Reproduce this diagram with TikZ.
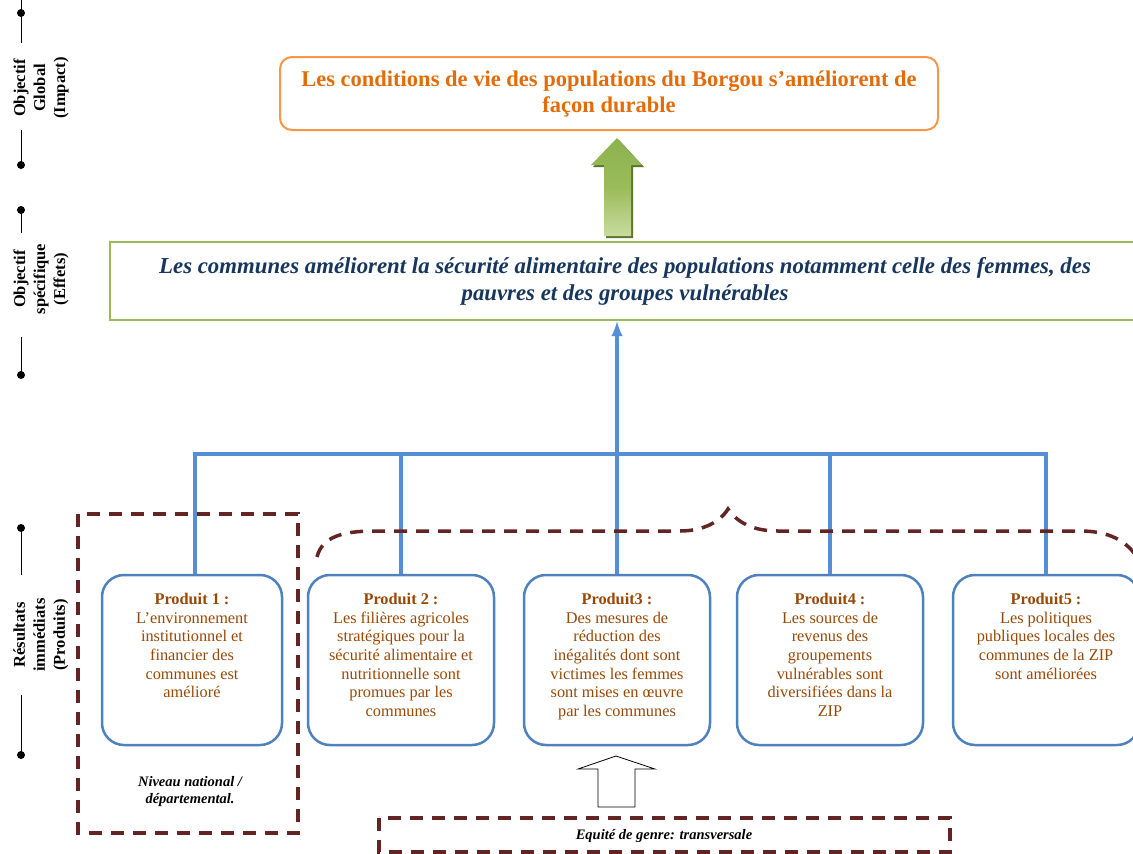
\documentclass[tikz,border=0pt]{standalone}
\usepackage{fontspec}
\setmainfont{Liberation Serif}
\usetikzlibrary{arrows,calc}
\definecolor{orange1}{RGB}{247,150,70}
\definecolor{orange2}{RGB}{227,108,10}
\definecolor{green1}{RGB}{155,187,89}
\definecolor{green2}{RGB}{140,178,80}
\definecolor{green3}{RGB}{200,220,160}
\definecolor{green4}{RGB}{90,118,44}
\definecolor{navy1}{RGB}{23,54,93}
\definecolor{blue1}{RGB}{85,142,213}
\definecolor{blue2}{RGB}{79,129,189}
\definecolor{brown1}{RGB}{152,72,6}
\definecolor{red1}{RGB}{99,37,35}
\newcommand{\prodtxt}[2]{\parbox[c][134pt][t]{180pt}{\centering\textbf{#1}\\#2}}
\tikzset{
  axlbl/.style={rotate=90,align=center,font=\fontsize{16.5}{20}\selectfont\bfseries},
  prod/.style={draw=blue2,line width=2.5pt,rounded corners=22pt,inner sep=0pt,
    minimum width=186pt,minimum height=170pt,text=brown1,font=\fontsize{16.3}{18.7}\selectfont},
  tree/.style={draw=blue1,line width=4pt},
  dashbox/.style={draw=red1,line width=3.5pt,dash pattern=on 13pt off 9pt},
  note/.style={align=center,font=\fontsize{14.5}{17}\selectfont\bfseries\itshape}
}
\begin{document}
\begin{tikzpicture}[x=1pt,y=-1pt]
\useasboundingbox (0,0) rectangle (1133,854);
% echelle a gauche
\draw[thick] (21,0) -- (21,43);
\draw[thick] (21,130) -- (21,165);
\draw[thick] (21,210) -- (21,233);
\draw[thick] (21,337) -- (21,375);
\draw[thick] (21,528) -- (21,575);
\draw[thick] (21,695) -- (21,755);
\foreach \y in {13,165,210,375,528,755} \fill (21,\y) circle (4);
\node[axlbl] (lbl1) at (41,88) {Objectif\\Global\\(Impact)};
\node[axlbl] (lbl2) at (41,279) {Objectif\\spécifique\\(Effets)};
\node[axlbl] (lbl3) at (41,635) {Résultats\\immédiats\\(Produits)};
% objectifs
\node[draw=orange1,line width=2pt,rounded corners=12pt,minimum width=658pt,minimum height=73pt,
  align=center,text=orange2,font=\fontsize{22.5}{26}\selectfont\bfseries] (imp) at (609,93.5)
  {Les conditions de vie des populations du Borgou s’améliorent de\\façon durable};
\node[draw=green1,line width=2.5pt,minimum width=1030pt,minimum height=78pt,
  align=center,text=navy1,font=\fontsize{22.8}{27}\selectfont\bfseries\itshape] (eff) at (625,281)
  {Les communes améliorent la sécurité alimentaire des populations notamment celle des femmes, des\\pauvres et des groupes vulnérables};
\fill[green4] (619,140) -- (644,167) -- (633,167) -- (633,238) -- (606,238) -- (606,167) -- (593,167) -- cycle;
\shade[top color=green2,bottom color=green3,middle color=green1] (617,138) -- (642,165) -- (631,165) -- (631,236) -- (604,236) -- (604,165) -- (591,165) -- cycle;
% produits
\node[prod,minimum width=177pt] (p1) at (192,660) {\prodtxt{Produit 1 :}{L’environnement\\institutionnel et\\financier des\\communes est\\amélioré}};
\node[prod] (p2) at (401,660) {\prodtxt{Produit 2 :}{Les filières agricoles\\stratégiques pour la\\sécurité alimentaire et\\nutritionnelle sont\\promues par les\\communes}};
\node[prod] (p3) at (617,660) {\prodtxt{Produit3 :}{Des mesures de\\réduction des\\inégalités dont sont\\victimes les femmes\\sont mises en œuvre\\par les communes}};
\node[prod] (p4) at (830,660) {\prodtxt{Produit4 :}{Les sources de\\revenus des\\groupements\\vulnérables sont\\diversifiées dans la\\ZIP}};
\node[prod] (p5) at (1046,660) {\prodtxt{Produit5 :}{Les politiques\\publiques locales des\\communes de la ZIP\\sont améliorées}};
\coordinate (bar) at (617,454);
\draw[tree] ($(p1.north)+(3,0)$) -- ($(p1.north |- bar)+(3,0)$) -- (p5.north |- bar) -- (p5.north);
\foreach \p in {p2,p3,p4} \draw[tree] (\p.north) -- (\p.north |- bar);
\draw[tree,-latex] (p3.north |- bar) -- (p3.north |- eff.south);
% niveaux
\draw[dashbox] (78,514) rectangle (298,833);
\node[note] (nat) at (190,792) {Niveau national /\\départemental.};
\draw[dashbox] (317,557) .. controls (322,537) and (342,531) .. (375,531) -- (680,531)
  .. controls (703,531) and (720,522) .. (728,509) .. controls (737,522) and (752,531) .. (778,531)
  -- (1080,531) .. controls (1108,531) and (1128,540) .. (1140,562);
\draw[dashbox] (379,818) rectangle (950,852);
\node[note] (gen) at (664,836) {Equité de genre: transversale};
\draw[line width=0.8pt,fill=white] (616,756) -- (655,769) -- (635,769) -- (635,807) -- (598,807) -- (598,769) -- (578,769) -- cycle;
\end{tikzpicture}
\end{document}
